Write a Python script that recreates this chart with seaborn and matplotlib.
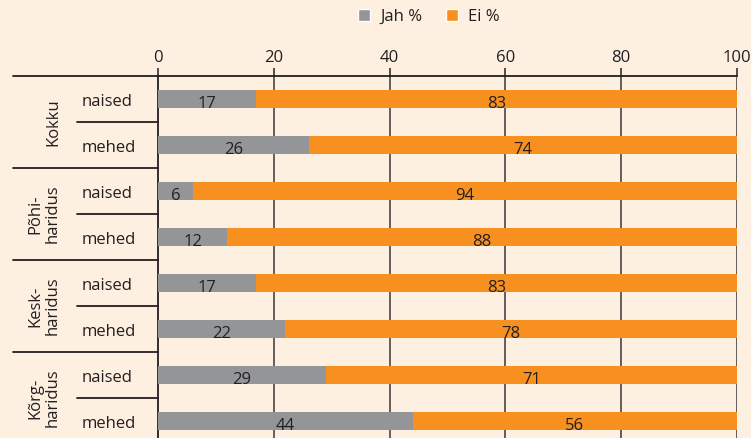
import pandas as pd
import seaborn as sns
import matplotlib.pyplot as plt
from matplotlib.patches import Patch

# data
groups = ["Kokku", "Põhi-\nharidus", "Kesk-\nharidus", "Kõrg-\nharidus"]
sexes = ["naised", "mehed"]
jah = [17, 26, 6, 12, 17, 22, 29, 44]
ei = [83, 74, 94, 88, 83, 78, 71, 56]
xticks = [0, 20, 40, 60, 80, 100]

BG = "#FDF0E1"
GRAY = "#939598"
ORANGE = "#F7901E"
INK = "#231F20"

sns.set_style("white")
plt.rcParams["font.family"] = ["Open Sans", "DejaVu Sans"]

rows = [f"{g}|{s}" for g in groups for s in sexes]
df = pd.DataFrame({"row": rows, "Jah": jah, "Ei": ei})
df["total"] = df["Jah"] + df["Ei"]

fig = plt.figure(figsize=(7.51, 4.38), dpi=100, facecolor=BG)
ax = fig.add_axes([158 / 751, 1 - 444 / 438, 579 / 751, 368 / 438])
ax.set_facecolor(BG)

# stacked bars: full length in orange, then the "Jah" part on top in gray
sns.barplot(data=df, y="row", x="total", orient="h", color=ORANGE,
            width=0.39, saturation=1, linewidth=0, ax=ax, zorder=3)
sns.barplot(data=df, y="row", x="Jah", orient="h", color=GRAY,
            width=0.39, saturation=1, linewidth=0, ax=ax, zorder=4)

ax.set_xlim(0, 100)
ax.set_ylim(7.5, -0.5)
ax.set_xlabel("")
ax.set_ylabel("")
ax.set_yticks([])

ax.xaxis.tick_top()
ax.set_xticks(xticks)
ax.tick_params(axis="x", direction="out", length=6, width=1.1, color=INK,
               labelsize=12, labelcolor=INK, pad=1.5)
for x in xticks[1:]:
    ax.axvline(x, color="#3a3637", lw=1.1, zorder=2)

for side in ["left", "top"]:
    ax.spines[side].set_color(INK)
    ax.spines[side].set_linewidth(1.3)
ax.spines["right"].set_visible(False)
ax.spines["bottom"].set_visible(False)

# value labels
for i, (j, e) in enumerate(zip(jah, ei)):
    ax.text(j / 2, i + 0.1, str(j), ha="center", va="center",
            fontsize=12, color=INK, zorder=5)
    ax.text(j + e / 2, i + 0.1, str(e), ha="center", va="center",
            fontsize=12, color=INK, zorder=5)

# left-hand category labels and divider lines
tr = ax.get_yaxis_transform()
x_outer = (13 - 158) / 579
x_inner = (77 - 158) / 579
for gi, g in enumerate(groups):
    top = gi * 2 - 0.5
    ax.plot([x_outer, 0], [top, top], transform=tr, color=INK, lw=1.3,
            clip_on=False)
    ax.plot([x_inner, 0], [top + 1, top + 1], transform=tr, color=INK,
            lw=1.3, clip_on=False)
    ax.text((61 - 158) / 579, top + 1, g, transform=tr, rotation=90,
            ha="right", va="center", multialignment="center",
            fontsize=12, color=INK, linespacing=1.1)
    for si, s in enumerate(sexes):
        ax.text((82 - 158) / 579, gi * 2 + si + 0.07, s, transform=tr,
                ha="left", va="center", fontsize=12, color=INK)

handles = [Patch(facecolor=GRAY, label="Jah %"),
           Patch(facecolor=ORANGE, label="Ei %")]
fig.legend(handles=handles, loc="center", bbox_to_anchor=(429 / 751, 1 - 17 / 438),
           ncol=2, frameon=False, fontsize=12, handlelength=0.75,
           handleheight=0.75, handletextpad=0.6, columnspacing=1.4,
           labelcolor=INK)

fig.savefig("out.png", dpi=100, facecolor=BG)
